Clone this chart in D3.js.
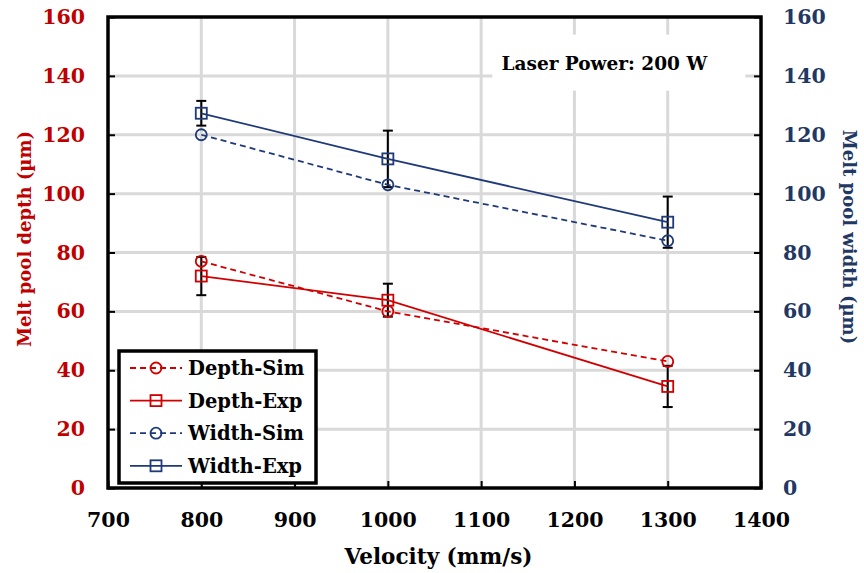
<!DOCTYPE html>
<html>
<head>
<meta charset="utf-8">
<script src="https://cdn.jsdelivr.net/npm/d3@7"></script>
<style>
  body { margin: 0; background: #fff; }
  text { font-family: "DejaVu Serif", serif; font-weight: bold; }
</style>
</head>
<body>
<svg width="864" height="573"></svg>
<script>
let svg = d3.select('svg');

// velocities (mm/s)
let velocity = [800, 1000, 1300];
// melt pool depth / width (um)
let depthSim = [77, 60, 43];
let depthExp = [72, 63.8, 34.5];
let depthErr = [6.5, 5.6, 7];
let widthSim = [120, 103, 84];
let widthExp = [127.3, 111.8, 90.3];
let widthErr = [4.2, 9.6, 8.7];

let xTicks = [700, 800, 900, 1000, 1100, 1200, 1300, 1400];
let yTicks = [0, 20, 40, 60, 80, 100, 120, 140, 160];

let red = '#c00000';
let navy = '#1f3864';
let lineRed = '#d00000';
let lineBlue = '#1f3a7a';

let series = [
    {name: 'Depth-Sim', values: depthSim, color: lineRed, dash: '6,4', marker: 'circle'},
    {name: 'Depth-Exp', values: depthExp, err: depthErr, color: lineRed, dash: null, marker: 'square'},
    {name: 'Width-Sim', values: widthSim, color: lineBlue, dash: '6,4', marker: 'circle'},
    {name: 'Width-Exp', values: widthExp, err: widthErr, color: lineBlue, dash: null, marker: 'square'}
];

let margin = {top: 17, right: 103, bottom: 85, left: 108};
let width = 864, height = 573;
let innerWidth = width - margin.left - margin.right;
let innerHeight = height - margin.top - margin.bottom;

let xScale = d3.scaleLinear().domain([700, 1400]).range([0, innerWidth]);
let yScale = d3.scaleLinear().domain([0, 160]).range([innerHeight, 0]);

let g = svg.append('g')
    .attr('transform', `translate(${margin.left},${margin.top})`);

// grid
g.append('g').selectAll('line').data(xTicks.slice(1, -1)).enter().append('line')
    .attr('x1', d => xScale(d)).attr('x2', d => xScale(d))
    .attr('y1', 0).attr('y2', innerHeight)
    .attr('stroke', '#d9d9d9').attr('stroke-width', 3);
g.append('g').selectAll('line').data(yTicks.slice(1, -1)).enter().append('line')
    .attr('y1', d => yScale(d)).attr('y2', d => yScale(d))
    .attr('x1', 0).attr('x2', innerWidth)
    .attr('stroke', '#d9d9d9').attr('stroke-width', 3);

// axes, ticks pointing inward
let styleAxis = (sel, color) => {
    sel.select('.domain').remove();
    sel.selectAll('.tick line').attr('stroke', '#000').attr('stroke-width', 2);
    sel.selectAll('.tick text').attr('fill', color)
        .style('font-size', '20.5px');
};

let fmt = d3.format('d');

g.append('g')
    .attr('transform', `translate(0,${innerHeight})`)
    .call(d3.axisBottom(xScale).tickValues(xTicks).tickFormat(fmt).tickSize(-7).tickPadding(24))
    .call(sel => styleAxis(sel, '#000'));

g.append('g')
    .call(d3.axisLeft(yScale).tickValues(yTicks).tickFormat(fmt).tickSize(-7).tickPadding(23))
    .call(sel => styleAxis(sel, red));

g.append('g')
    .attr('transform', `translate(${innerWidth},0)`)
    .call(d3.axisRight(yScale).tickValues(yTicks).tickFormat(fmt).tickSize(-7).tickPadding(22))
    .call(sel => styleAxis(sel, navy));

// plot frame
g.append('rect')
    .attr('width', innerWidth).attr('height', innerHeight)
    .attr('fill', 'none').attr('stroke', '#000').attr('stroke-width', 3.5);

// annotation box
let note = g.append('g').attr('transform', `translate(${xScale(1112)},${yScale(154)})`);
note.append('rect')
    .attr('width', 253).attr('height', 56).attr('fill', '#fff');
note.append('text')
    .attr('x', 112).attr('y', 35)
    .attr('text-anchor', 'middle')
    .style('font-size', '18.5px')
    .text('Laser Power: 200 W');

// error bars
let exp = series.filter(s => s.err);
exp.forEach(s => {
    let eg = g.append('g');
    let pts = velocity.map((v, i) => ({v: v, y: s.values[i], e: s.err[i]}));
    eg.selectAll('.bar').data(pts).enter().append('line')
        .attr('x1', d => xScale(d.v)).attr('x2', d => xScale(d.v))
        .attr('y1', d => yScale(d.y - d.e)).attr('y2', d => yScale(d.y + d.e))
        .attr('stroke', '#000').attr('stroke-width', 2);
    [-1, 1].forEach(sign => {
        eg.selectAll('.cap' + sign).data(pts).enter().append('line')
            .attr('x1', d => xScale(d.v) - 5).attr('x2', d => xScale(d.v) + 5)
            .attr('y1', d => yScale(d.y + sign * d.e)).attr('y2', d => yScale(d.y + sign * d.e))
            .attr('stroke', '#000').attr('stroke-width', 2);
    });
});

let line = d3.line().x(d => xScale(d[0])).y(d => yScale(d[1]));

let drawMarker = (sel, s) => {
    if (s.marker === 'circle') {
        sel.append('circle').attr('r', 5.5)
            .attr('fill', 'none').attr('stroke', s.color).attr('stroke-width', 1.8);
    } else {
        sel.append('rect').attr('x', -5.5).attr('y', -5.5).attr('width', 11).attr('height', 11)
            .attr('fill', 'none').attr('stroke', s.color).attr('stroke-width', 1.8);
    }
};

series.forEach(s => {
    let pts = velocity.map((v, i) => [v, s.values[i]]);
    g.append('path').datum(pts)
        .attr('d', line)
        .attr('fill', 'none')
        .attr('stroke', s.color)
        .attr('stroke-width', 1.8)
        .attr('stroke-dasharray', s.dash);
    g.selectAll(null).data(pts).enter().append('g')
        .attr('transform', d => `translate(${xScale(d[0])},${yScale(d[1])})`)
        .each(function() { drawMarker(d3.select(this), s); });
});

// legend
let legend = g.append('g').attr('transform', 'translate(11,334)');
legend.append('rect')
    .attr('width', 197).attr('height', 132)
    .attr('fill', '#fff').attr('stroke', '#000').attr('stroke-width', 3.5);
series.forEach((s, i) => {
    let row = legend.append('g').attr('transform', `translate(0,${17 + i * 32.6})`);
    row.append('line')
        .attr('x1', 11).attr('x2', 63)
        .attr('stroke', s.color).attr('stroke-width', 1.8)
        .attr('stroke-dasharray', s.dash);
    let m = row.append('g').attr('transform', 'translate(37,0)');
    drawMarker(m, s);
    row.append('text')
        .attr('x', 69).attr('y', 7)
        .style('font-size', '19.5px')
        .text(s.name);
});

// axis titles
svg.append('text')
    .attr('x', margin.left + innerWidth / 2 + 4).attr('y', 564)
    .attr('text-anchor', 'middle')
    .style('font-size', '21.5px')
    .text('Velocity (mm/s)');

svg.append('text')
    .attr('transform', 'translate(31,239) rotate(-90)')
    .attr('text-anchor', 'middle')
    .attr('fill', red)
    .style('font-size', '18px')
    .text('Melt pool depth (µm)');

svg.append('text')
    .attr('transform', 'translate(843,237) rotate(90)')
    .attr('text-anchor', 'middle')
    .attr('fill', navy)
    .style('font-size', '18px')
    .text('Melt pool width (µm)');
</script>
</body>
</html>
